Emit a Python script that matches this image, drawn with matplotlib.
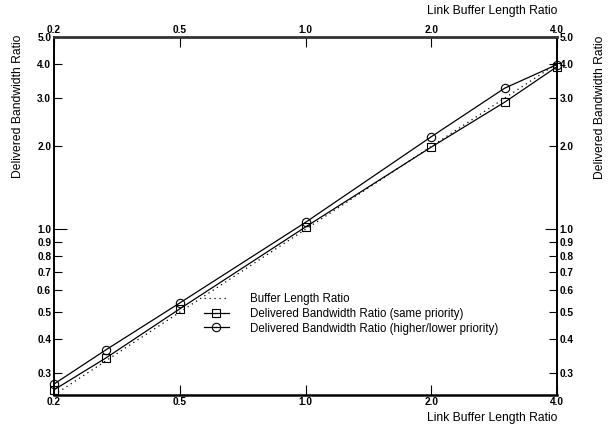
import numpy as np, matplotlib
matplotlib.use("Agg"); import matplotlib.pyplot as plt
from matplotlib.ticker import FixedLocator, NullLocator, NullFormatter

plt.rcParams.update({"font.family": ["Liberation Sans", "DejaVu Sans"], "font.size": 8})

# data (log-log, both axes start at 0.25)
buf_ratio = [0.25, 0.333, 0.5, 1.0, 2.0, 3.0, 4.0]
bw_same = [0.261, 0.341, 0.514, 1.02, 1.99, 2.90, 3.90]
bw_prio = [0.274, 0.365, 0.540, 1.06, 2.17, 3.26, 3.97]
ideal = [0.25, 0.333, 0.5, 1.0, 2.0, 3.0, 4.0]
xticks = [0.25, 0.5, 1.0, 2.0, 4.0]
xtick_labels = ["0.2", "0.5", "1.0", "2.0", "4.0"]
yticks = [0.3, 0.4, 0.5, 0.6, 0.7, 0.8, 0.9, 1.0, 2.0, 3.0, 4.0, 5.0]
ytick_labels = ["0.3", "0.4", "0.5", "0.6", "0.7", "0.8", "0.9", "1.0", "2.0", "3.0", "4.0", "5.0"]

fig = plt.figure(figsize=(6.09, 4.25), dpi=100)
ax = fig.add_axes([54/609, 1-395/425, (557-54)/609, (395-37)/425])
ax.plot(buf_ratio, ideal, ls=(0, (1, 3)), color="black", lw=0.9, label="Buffer Length Ratio")
ax.plot(buf_ratio, bw_same, "-s", color="black", lw=0.9, ms=6, mfc="none", mew=0.8,
        label="Delivered Bandwidth Ratio (same priority)", clip_on=False)
ax.plot(buf_ratio, bw_prio, "-o", color="black", lw=0.9, ms=6, mfc="none", mew=0.8,
        label="Delivered Bandwidth Ratio (higher/lower priority)", clip_on=False)
ax.set_xscale("log"); ax.set_yscale("log")
ax.set_xlim(0.25, 4.0); ax.set_ylim(0.25, 5.0)

for a in (ax.xaxis, ax.yaxis):
    a.set_minor_locator(NullLocator()); a.set_minor_formatter(NullFormatter())
ax.xaxis.set_major_locator(FixedLocator(xticks)); ax.set_xticklabels(xtick_labels)
ax.yaxis.set_major_locator(FixedLocator(yticks)); ax.set_yticklabels(ytick_labels)
ax.tick_params(which="both", direction="in", length=6, width=0.8, labelsize=7.3,
               top=True, right=True, labeltop=True, labelright=True, pad=2)
ax.tick_params(axis="x", length=7, pad=1.5)
for t in ax.xaxis.get_major_ticks() + ax.yaxis.get_major_ticks():
    t.label1.set_fontweight("bold"); t.label2.set_fontweight("bold")
# the 1.0 tick is longer
one = ax.yaxis.get_major_ticks()[yticks.index(1.0)]
one.tick1line.set_markersize(9); one.tick2line.set_markersize(9)

ax.spines["top"].set_linewidth(2.0); ax.spines["top"].set_color("#333333")
ax.spines["bottom"].set_linewidth(1.8)
ax.spines["left"].set_linewidth(1.4); ax.spines["right"].set_linewidth(1.4)

fig.text(557/609, 1-418/425, "Link Buffer Length Ratio", ha="right", va="center", fontsize=8.7)
fig.text(557/609, 1-11/425, "Link Buffer Length Ratio", ha="right", va="center", fontsize=8.7)
fig.text(18.5/609, 1-106/425, "Delivered Bandwidth Ratio", rotation=90, ha="center", va="center", fontsize=8.7)
fig.text(600/609, 1-107/425, "Delivered Bandwidth Ratio", rotation=90, ha="center", va="center", fontsize=8.7)

ax.legend(loc="upper left", bbox_to_anchor=((198-54)/503, (395-287)/358), frameon=False,
          fontsize=8.3, handlelength=2.2, handletextpad=1.8, labelspacing=0.25, borderpad=0)

fig.savefig("out.png", dpi=100)
